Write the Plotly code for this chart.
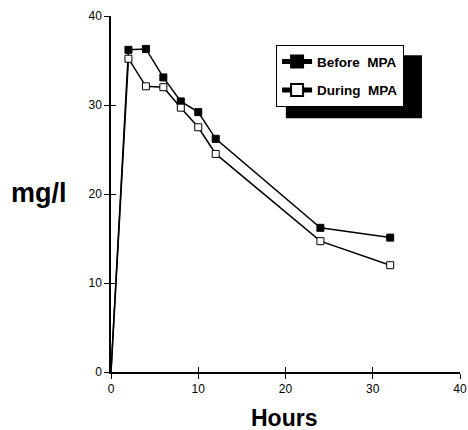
import plotly.graph_objects as go

hours = [0, 2, 4, 6, 8, 10, 12, 24, 32]
before_mpa = [0, 36.2, 36.3, 33.1, 30.4, 29.2, 26.2, 16.2, 15.1]
during_mpa = [0, 35.2, 32.1, 32.0, 29.7, 27.5, 24.5, 14.7, 12.0]
x_ticks = [0, 10, 20, 30, 40]
y_ticks = [0, 10, 20, 30, 40]

marker_sizes = [0] + [7] * (len(hours) - 1)

fig = go.Figure()
fig.add_trace(go.Scatter(
    x=hours, y=before_mpa, mode="lines+markers", name="Before\u00a0 MPA",
    legendgroup="a",
    line=dict(color="black", width=1.5),
    marker=dict(symbol="square", size=marker_sizes, color="black", opacity=1,
                line=dict(color="black", width=1)),
))
fig.add_trace(go.Scatter(
    x=hours, y=during_mpa, mode="lines+markers", name="During\u00a0 MPA",
    legendgroup="b",
    line=dict(color="black", width=1.5),
    marker=dict(symbol="square", size=marker_sizes, color="white", opacity=1,
                line=dict(color="black", width=1)),
))
# invisible helper trace so the inner-tick overlay axes get drawn
fig.add_trace(go.Scatter(
    x=hours, y=during_mpa, mode="markers", xaxis="x2", yaxis="y2",
    marker=dict(opacity=0), showlegend=False, hoverinfo="skip",
))

axis_common = dict(
    range=[0, 40], showgrid=False, zeroline=False, automargin=False,
    tickcolor="black", tickwidth=1, ticklen=5,
)

fig.update_layout(
    width=468, height=430,
    margin=dict(l=111, r=8, t=16, b=58, autoexpand=False),
    plot_bgcolor="white", paper_bgcolor="white",
    font=dict(family="Liberation Sans, Arial, sans-serif", color="black", size=12),
    showlegend=True,
    legend=dict(
        x=0.473, y=0.918, xanchor="left", yanchor="top",
        bgcolor="white", bordercolor="black", borderwidth=1,
        font=dict(family="Liberation Sans, Arial", size=13.5, color="black", weight="bold"),
        tracegroupgap=8, itemsizing="constant", itemwidth=30,
    ),
    xaxis=dict(tickvals=x_ticks, showline=True, linecolor="black", linewidth=1.5,
               ticks="outside", **axis_common),
    yaxis=dict(tickvals=y_ticks, showline=True, linecolor="black", linewidth=1.5,
               ticks="outside", **axis_common),
    xaxis2=dict(tickvals=x_ticks, overlaying="x", side="bottom", anchor="y2",
                showline=False, ticks="inside", showticklabels=False, **axis_common),
    yaxis2=dict(tickvals=y_ticks, overlaying="y", side="left", anchor="x2",
                showline=False, ticks="inside", showticklabels=False, **axis_common),
    annotations=[
        dict(
            text="<b>mg/l</b>", xref="paper", yref="paper", x=-0.206, y=0.503,
            xanchor="center", yanchor="middle", showarrow=False,
            font=dict(size=27, family="Liberation Sans, Arial"),
        ),
        dict(
            text="<b>Hours</b>", xref="paper", yref="paper", x=0.496, y=-0.129,
            xanchor="center", yanchor="middle", showarrow=False,
            font=dict(size=23, family="Liberation Sans, Arial"),
        ),
    ],
    shapes=[dict(
        type="rect", xref="paper", yref="paper",
        x0=0.501, x1=0.891, y0=0.713, y1=0.89,
        fillcolor="black", line=dict(width=0), layer="above",
    )],
)

fig.write_html("out.html", config={"displayModeBar": False},
               post_script="document.body.style.margin='0';")
